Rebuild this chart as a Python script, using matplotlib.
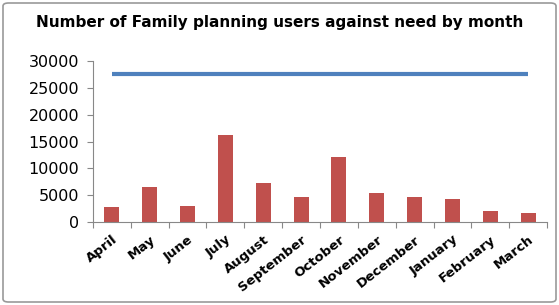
import numpy as np
import matplotlib
matplotlib.use("Agg")
import matplotlib.pyplot as plt
from matplotlib.patches import FancyBboxPatch

months = ["April", "May", "June", "July", "August", "September", "October",
          "November", "December", "January", "February", "March"]
users = [2850, 6500, 2900, 16150, 7250, 4650, 12050, 5350, 4650, 4350, 2050, 1650]
need = [27600] * 12

fig = plt.figure(figsize=(5.59, 3.05), dpi=100)
ax = fig.add_axes([93 / 559, 1 - 222 / 305, (547 - 93) / 559, (222 - 61) / 305])

x = np.arange(len(months))
ax.bar(x, users, width=0.4, color="#c0504d", zorder=2)
ax.plot(x, need, color="#4f81bd", lw=3, solid_capstyle="butt", zorder=3)

ax.set_xlim(-0.5, 11.5)
ax.set_ylim(0, 30000)
ax.set_yticks(np.arange(0, 30001, 5000))
ax.set_xticks(np.arange(-0.5, 12, 1))
ax.set_xticklabels([])
ax.set_xticks(x, minor=True)
ax.set_xticklabels(months, minor=True, rotation=38, ha="right", rotation_mode="anchor",
                   fontsize=9.5, fontweight="bold")
ax.tick_params(axis="x", which="minor", length=0, pad=8)
ax.tick_params(axis="x", which="major", length=4, color="#888888", direction="out")
ax.tick_params(axis="y", length=4, color="#888888", direction="out", labelsize=11.5, pad=6)
for side in ["top", "right"]:
    ax.spines[side].set_visible(False)
ax.spines["left"].set_color("#888888")
ax.spines["bottom"].set_color("#888888")

fig.text(0.5, 1 - 22 / 305, "Number of Family planning users against need by month",
         ha="center", va="center", fontsize=11, fontweight="bold")

border = FancyBboxPatch((3 / 559, 3 / 305), 553 / 559, 299 / 305,
                        boxstyle="round,pad=0,rounding_size=0.01",
                        transform=fig.transFigure, fill=False, ec="#999999", lw=1.2)
fig.patches.append(border)

fig.savefig("out.png", dpi=100)
